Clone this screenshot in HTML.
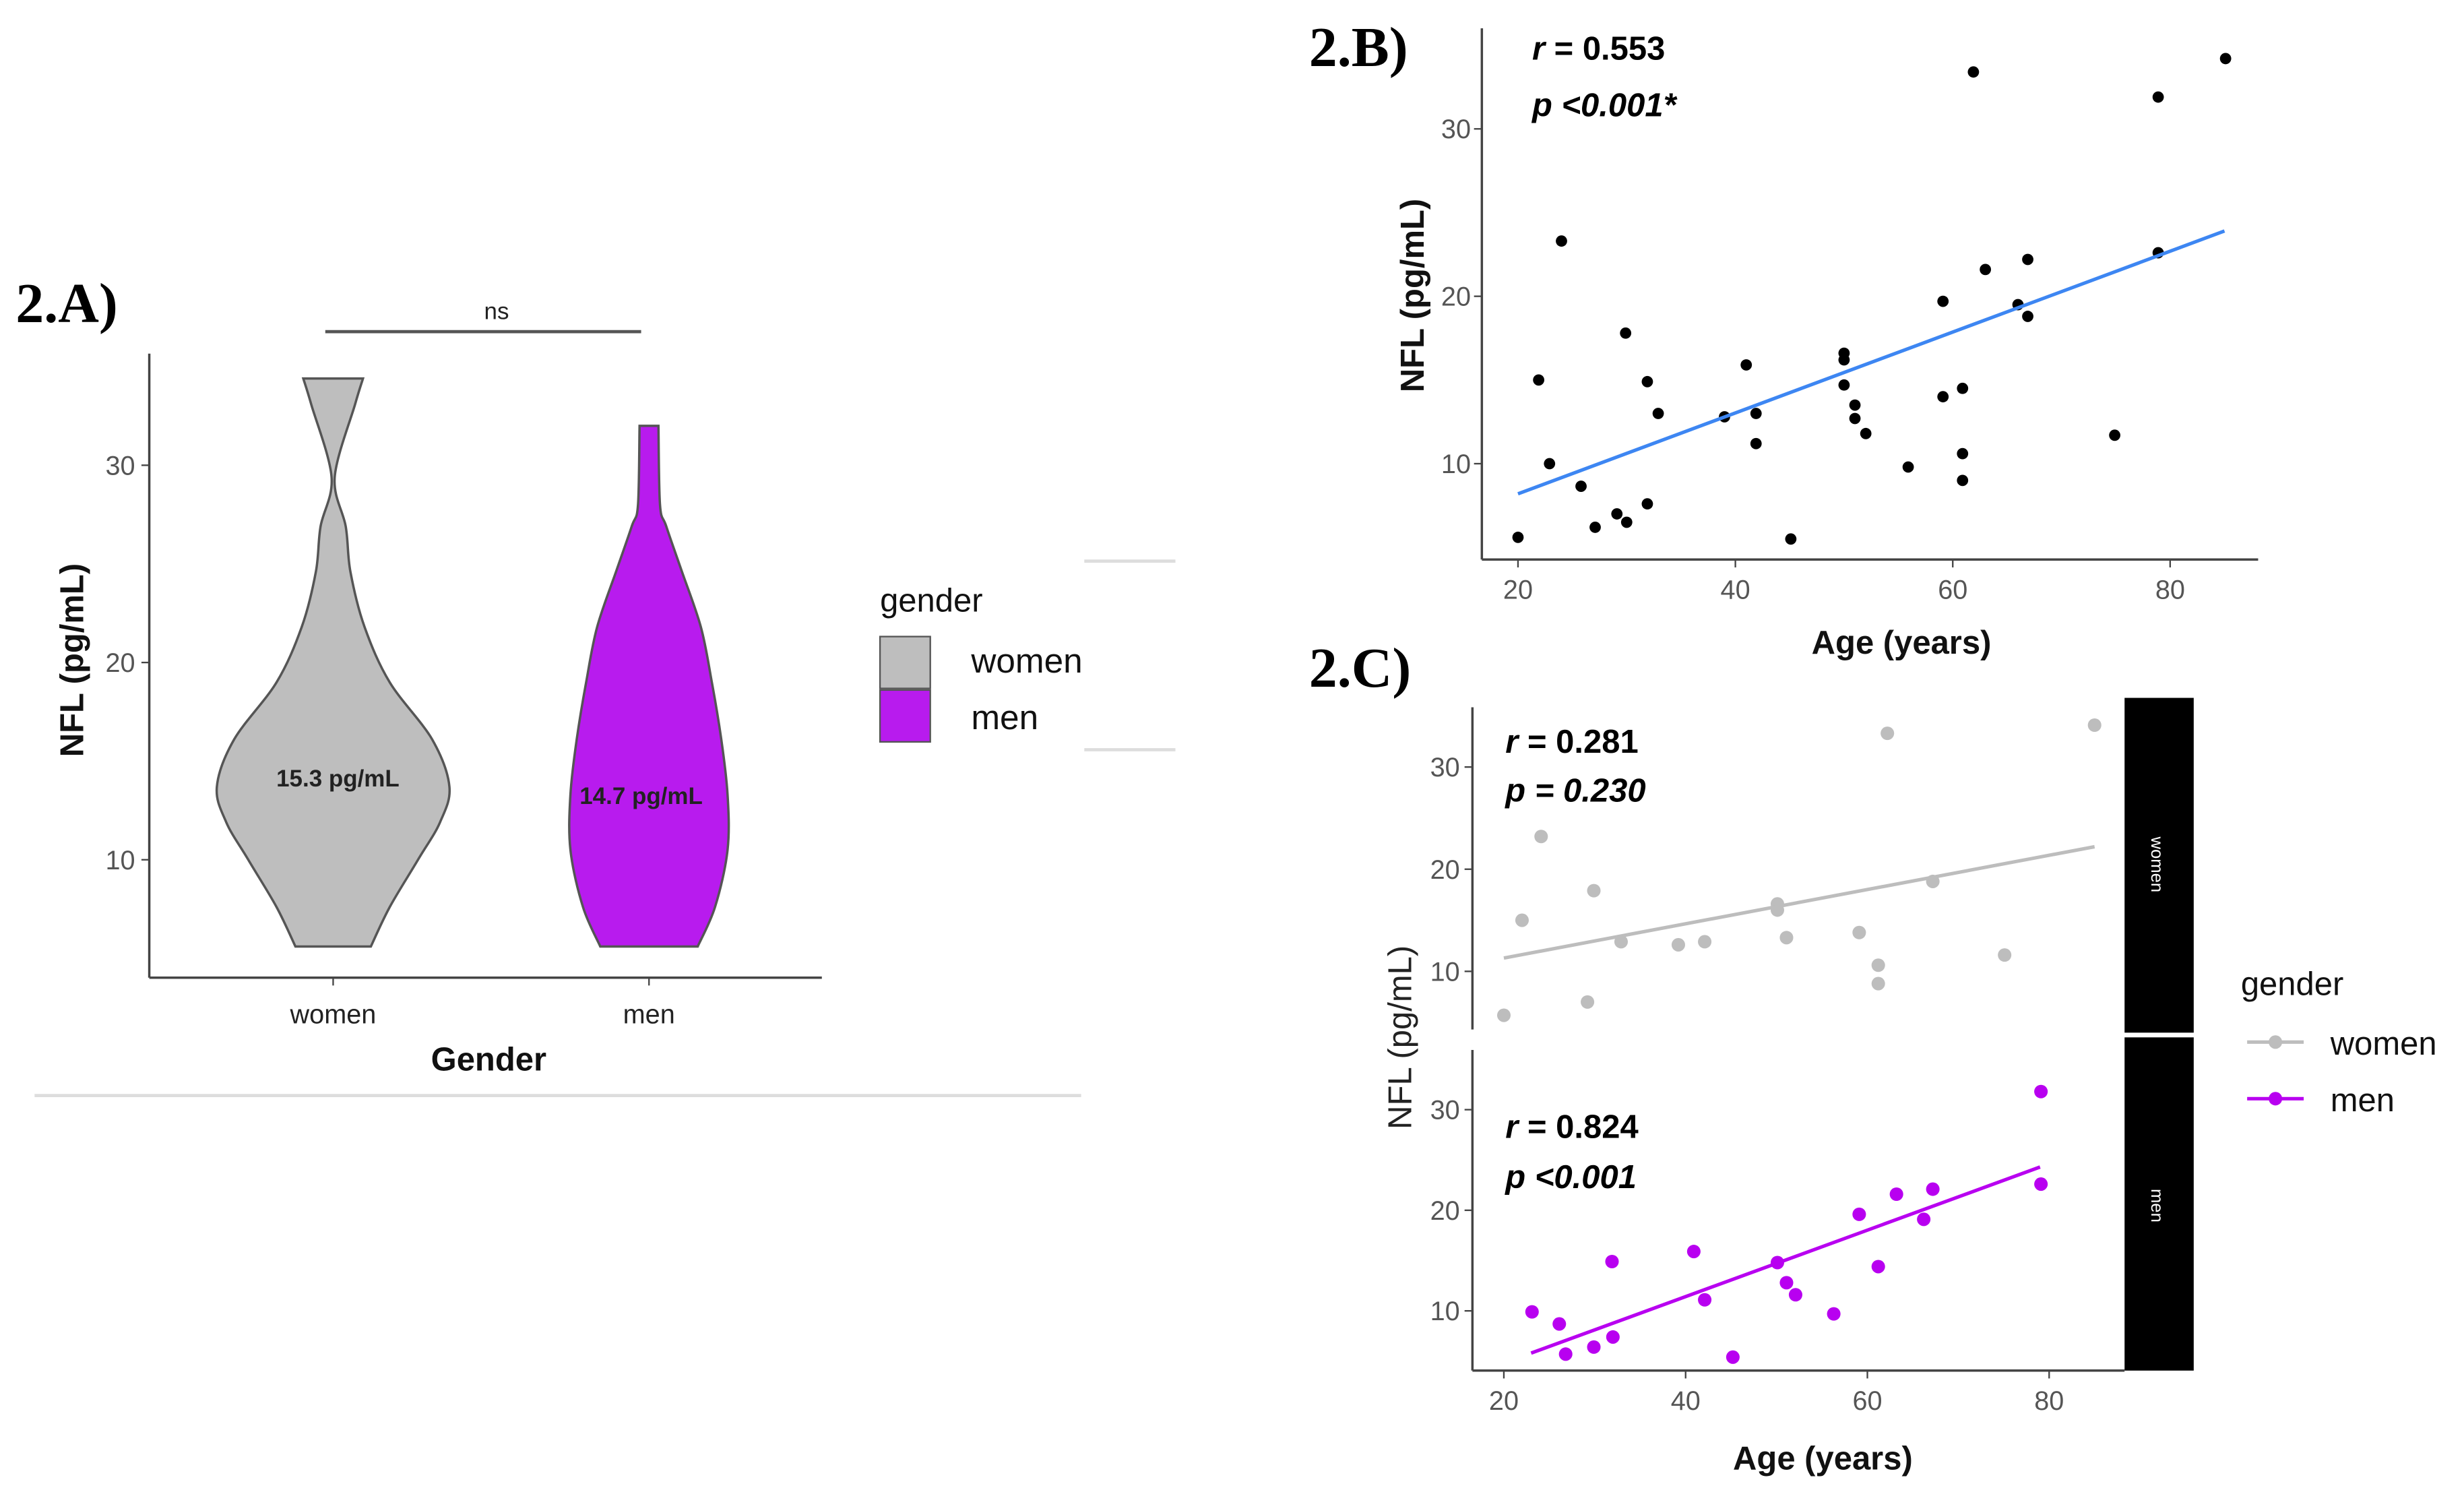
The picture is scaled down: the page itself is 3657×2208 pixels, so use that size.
<!DOCTYPE html>
<html><head><meta charset="utf-8"><style>
html,body{margin:0;padding:0;background:#fff}
svg{display:block}
text{font-family:"Liberation Sans",sans-serif}
.tick{fill:#555;font-size:17px}
.ttl{font-weight:bold;font-size:21px;fill:#111}
.pl{font-family:"Liberation Serif",serif;font-weight:bold;font-size:36px;fill:#000}
.st{font-weight:bold;font-size:21px;fill:#000}
</style></head><body>
<svg id="fig" width="3657" height="2208" viewBox="0 0 1568 946.7" preserveAspectRatio="none" xmlns="http://www.w3.org/2000/svg">
<g id="gA"></g>
<g id="gB"></g>
<g id="gC"></g>
</svg>
<script>
// Panel A violin data
const violinGroups = ["women","men"];
const womenVals = [34.4,33.1,29.4,26.9,24.6,21.8,19.0,16.1,13.7,11.9,10.0,7.6,5.6];
const womenHalf = [19,14,1,8,11,20,36,63,74,68,54,36,24];
const menVals = [32,28,26.9,24.6,21.8,19.0,16.1,13.3,10.5,7.6,5.6];
const menHalf = [6,7,11,21,33,40,46,50,50,42,31];
const medianLabels = ["15.3 pg/mL","14.7 pg/mL"];
const medianVals = [14.2,13.3];
const aTicks = [10,20,30];
// Panel B data
const bAge = [20,21.9,22.9,24,25.8,27.1,29.1,30,29.9,31.9,31.9,32.9,39,41,41.9,41.9,45.1,50,50,50,51,51,52,55.9,59.1,59.1,60.9,60.9,60.9,61.9,63,66,66.9,66.9,74.9,78.9,78.9,85.1];
const bNfl = [5.6,15.0,10.0,23.3,8.65,6.2,7.0,6.5,17.8,14.9,7.6,13.0,12.8,15.9,13.0,11.2,5.5,16.6,16.2,14.7,13.5,12.7,11.8,9.8,19.7,14.0,14.5,10.6,9.0,33.4,21.6,19.5,22.2,18.8,11.7,31.9,22.6,34.2];
const bFitX = [20,85];
const bFitY = [8.2,23.9];
const xTicks = [20,40,60,80];
const yTicks = [10,20,30];
// Panel C data
const wAge = [20,22,24.1,29.2,29.9,32.9,39.2,42.1,50.1,50.1,51.1,59.1,61.2,61.2,62.2,67.2,75.1,85.0];
const wNfl = [5.7,15.0,23.2,7.0,17.9,12.9,12.6,12.9,16.6,16.0,13.3,13.8,10.6,8.8,33.3,18.8,11.6,34.1];
const wFitX = [20,85];
const wFitY = [11.3,22.2];
const mAge = [23.1,26.1,26.8,29.9,31.9,32,40.9,42.1,45.2,50.1,51.1,52.1,56.3,59.1,61.2,63.2,66.2,67.2,79.1,79.1];
const mNfl = [9.9,8.7,5.7,6.4,14.9,7.4,15.9,11.1,5.4,14.8,12.8,11.6,9.7,19.6,14.4,21.6,19.1,22.1,31.8,22.6];
const mFitX = [23,79];
const mFitY = [5.8,24.3];

const NS="http://www.w3.org/2000/svg";
function mk(parent,tag,attrs,txt){const e=document.createElementNS(NS,tag);for(const k in attrs)e.setAttribute(k,attrs[k]);if(txt!==undefined)e.textContent=txt;parent.appendChild(e);return e;}
function lin(d0,d1,r0,r1){return v=>r0+(v-d0)*(r1-r0)/(d1-d0);}
function smooth(pts){ // catmull-rom open curve
  let d='';
  for(let i=0;i<pts.length-1;i++){
    const p0=pts[Math.max(0,i-1)],p1=pts[i],p2=pts[i+1],p3=pts[Math.min(pts.length-1,i+2)];
    const c1=[p1[0]+(p2[0]-p0[0])/6,p1[1]+(p2[1]-p0[1])/6];
    const c2=[p2[0]-(p3[0]-p1[0])/6,p2[1]-(p3[1]-p1[1])/6];
    d+=' C'+c1.map(v=>v.toFixed(1)).join(',')+' '+c2.map(v=>v.toFixed(1)).join(',')+' '+p2.map(v=>v.toFixed(1)).join(',');
  }
  return d;
}

// ---------- Panel A ----------
const gA=document.getElementById('gA');
const ayA=lin(10,30,547,296);
const axA={women:212,men:413};
let e;
e=mk(gA,'text',{x:10,y:205,class:'pl'},'2.A)');


e=mk(gA,'line',{x1:95,y1:225,x2:95,y2:622,stroke:'#444','stroke-width':1.5});


e=mk(gA,'line',{x1:95,y1:622,x2:523,y2:622,stroke:'#444','stroke-width':1.5});


aTicks.forEach(t=>{
  e=mk(gA,'text',{x:86,y:ayA(t)+6,class:'tick','text-anchor':'end'},String(t));
  
  
  mk(gA,'line',{x1:90,x2:95,y1:ayA(t),y2:ayA(t),stroke:'#444'});
});
function violin(cx,vals,half,fill){
  const right=vals.map((v,i)=>[cx+half[i],ayA(v)]);
  const left=vals.map((v,i)=>[cx-half[i],ayA(v)]).reverse();
  let d='M'+(cx-half[0]).toFixed(1)+','+ayA(vals[0]).toFixed(1)+' L'+right[0].map(v=>v.toFixed(1)).join(',');
  d+=smooth(right);
  d+=' L'+left[0].map(v=>v.toFixed(1)).join(',');
  d+=smooth(left)+' Z';
  return mk(gA,'path',{d:d,fill:fill,stroke:'#555','stroke-width':1.5});
}
e=violin(axA.women,womenVals,womenHalf,'#bebebe');


e=violin(axA.men,menVals,menHalf,'#b81bee');


violinGroups.forEach((g,i)=>{
  e=mk(gA,'text',{x:axA[g]+3-i*8,y:ayA(medianVals[i])+6,'text-anchor':'middle','font-size':15,'font-weight':'bold',fill:'#222'},medianLabels[i]);
  
  
  e=mk(gA,'text',{x:axA[g],y:651,class:'tick','text-anchor':'middle',style:'fill:#222'},g);
  
  
  mk(gA,'line',{x1:axA[g],x2:axA[g],y1:622,y2:627,stroke:'#444'});
});
e=mk(gA,'line',{x1:207,y1:211,x2:408,y2:211,stroke:'#555','stroke-width':2});


e=mk(gA,'text',{x:316,y:203,'text-anchor':'middle','font-size':15,fill:'#222'},'ns');


e=mk(gA,'text',{x:0,y:0,class:'ttl',transform:'translate(53,420) rotate(-90)','text-anchor':'middle'},'NFL (pg/mL)');


e=mk(gA,'text',{x:311,y:681,class:'ttl','text-anchor':'middle'},'Gender');


e=mk(gA,'text',{x:560,y:389,'font-size':21,fill:'#111','font-weight':'500'},'gender');


e=mk(gA,'rect',{x:560,y:405,width:32,height:33,fill:'#bebebe',stroke:'#555'});


e=mk(gA,'rect',{x:560,y:439,width:32,height:33,fill:'#b81bee',stroke:'#555'});


e=mk(gA,'text',{x:618,y:428,'font-size':22,fill:'#111'},'women');


e=mk(gA,'text',{x:618,y:464,'font-size':22,fill:'#111'},'men');


mk(gA,'line',{x1:690,x2:748,y1:357,y2:357,stroke:'#ddd','stroke-width':2});
mk(gA,'line',{x1:690,x2:748,y1:477,y2:477,stroke:'#ddd','stroke-width':2});
mk(gA,'line',{x1:22,x2:688,y1:697,y2:697,stroke:'#ddd','stroke-width':2});

// ---------- Panel B ----------
const gB=document.getElementById('gB');
const bx=lin(20,80,966,1381), by=lin(10,30,295,82);
e=mk(gB,'text',{x:833,y:42,class:'pl'},'2.B)');


e=mk(gB,'line',{x1:943,y1:18,x2:943,y2:356,stroke:'#444','stroke-width':1.5});


e=mk(gB,'line',{x1:943,y1:356,x2:1437,y2:356,stroke:'#444','stroke-width':1.5});


yTicks.forEach(t=>{
  e=mk(gB,'text',{x:936,y:by(t)+6,class:'tick','text-anchor':'end'},String(t));
  
  
  mk(gB,'line',{x1:938,x2:943,y1:by(t),y2:by(t),stroke:'#444'});
});
xTicks.forEach(t=>{
  e=mk(gB,'text',{x:bx(t),y:381,class:'tick','text-anchor':'middle'},String(t));
  
  
  mk(gB,'line',{x1:bx(t),x2:bx(t),y1:356,y2:361,stroke:'#444'});
});
bAge.forEach((a,i)=>{
  e=mk(gB,'circle',{cx:bx(a),cy:by(bNfl[i]),r:3.6,fill:'#000'});
  
  
});
e=mk(gB,'line',{x1:bx(bFitX[0]),y1:by(bFitY[0]),x2:bx(bFitX[1]),y2:by(bFitY[1]),stroke:'#3d86f2','stroke-width':2.2});


e=mk(gB,'text',{x:975,y:38,class:'st'});
e.innerHTML='<tspan font-style="italic">r</tspan> = 0.553';


e=mk(gB,'text',{x:975,y:74,class:'st','font-style':'italic'},'p <0.001*');


e=mk(gB,'text',{x:0,y:0,class:'ttl',transform:'translate(906,188) rotate(-90)','text-anchor':'middle'},'NFL (pg/mL)');


e=mk(gB,'text',{x:1210,y:416,class:'ttl','text-anchor':'middle'},'Age (years)');



// ---------- Panel C ----------
const gC=document.getElementById('gC');
const cx=lin(20,80,957,1304);
const cyT=lin(10,30,618,488), cyB=lin(10,30,834,706);
e=mk(gC,'text',{x:833,y:437,class:'pl'},'2.C)');


[[450,655,cyT],[668,872,cyB]].forEach(([y0,y1,sc],k)=>{
  e=mk(gC,'line',{x1:937,y1:y0,x2:937,y2:y1,stroke:'#444','stroke-width':1.5});
  
  
  yTicks.forEach(t=>{
    e=mk(gC,'text',{x:929,y:sc(t)+6,class:'tick','text-anchor':'end'},String(t));
    
    
    mk(gC,'line',{x1:932,x2:937,y1:sc(t),y2:sc(t),stroke:'#444'});
  });
});
e=mk(gC,'line',{x1:937,y1:872,x2:1352,y2:872,stroke:'#444','stroke-width':1.5});


xTicks.forEach(t=>{
  e=mk(gC,'text',{x:cx(t),y:897,class:'tick','text-anchor':'middle'},String(t));
  
  
  mk(gC,'line',{x1:cx(t),x2:cx(t),y1:872,y2:877,stroke:'#444'});
});
e=mk(gC,'rect',{x:1352,y:444,width:44,height:213,fill:'#000'});


e=mk(gC,'rect',{x:1352,y:660,width:44,height:212,fill:'#000'});


e=mk(gC,'text',{x:0,y:0,transform:'translate(1369,550) rotate(90)','text-anchor':'middle','font-size':11,fill:'#fff'},'women');


e=mk(gC,'text',{x:0,y:0,transform:'translate(1369,767) rotate(90)','text-anchor':'middle','font-size':11,fill:'#fff'},'men');


wAge.forEach((a,i)=>{
  e=mk(gC,'circle',{cx:cx(a),cy:cyT(wNfl[i]),r:4.3,fill:'#bdbdbd'});
  
  
});
mAge.forEach((a,i)=>{
  e=mk(gC,'circle',{cx:cx(a),cy:cyB(mNfl[i]),r:4.3,fill:'#b800f0'});
  
  
});
e=mk(gC,'line',{x1:cx(wFitX[0]),y1:cyT(wFitY[0]),x2:cx(wFitX[1]),y2:cyT(wFitY[1]),stroke:'#bdbdbd','stroke-width':2.2});


e=mk(gC,'line',{x1:cx(mFitX[0]),y1:cyB(mFitY[0]),x2:cx(mFitX[1]),y2:cyB(mFitY[1]),stroke:'#b800f0','stroke-width':2.2});


[['0.281','p = 0.230',479,510,'women'],['0.824','p <0.001',724,756,'men']].forEach(([r,p,y1,y2,g])=>{
  e=mk(gC,'text',{x:958,y:y1,class:'st'});
  e.innerHTML='<tspan font-style="italic">r</tspan> = '+r;
  
  
  e=mk(gC,'text',{x:958,y:y2,class:'st','font-style':'italic'},p);
  
  
});
e=mk(gC,'text',{x:0,y:0,transform:'translate(898,660) rotate(-90)','text-anchor':'middle','font-size':21,fill:'#222'},'NFL (pg/mL)');


e=mk(gC,'text',{x:1160,y:935,class:'ttl','text-anchor':'middle'},'Age (years)');


e=mk(gC,'text',{x:1426,y:633,'font-size':21,fill:'#111'},'gender');


[['women','#bdbdbd',663],['men','#b800f0',699]].forEach(([g,c,y])=>{
  e=mk(gC,'line',{x1:1430,x2:1466,y1:y,y2:y,stroke:c,'stroke-width':2.2});
  
  
  mk(gC,'circle',{cx:1448,cy:y,r:4.3,fill:c});
  e=mk(gC,'text',{x:1483,y:y+8,'font-size':21,fill:'#111'},g);
  
  
});
</script>
</body></html>
